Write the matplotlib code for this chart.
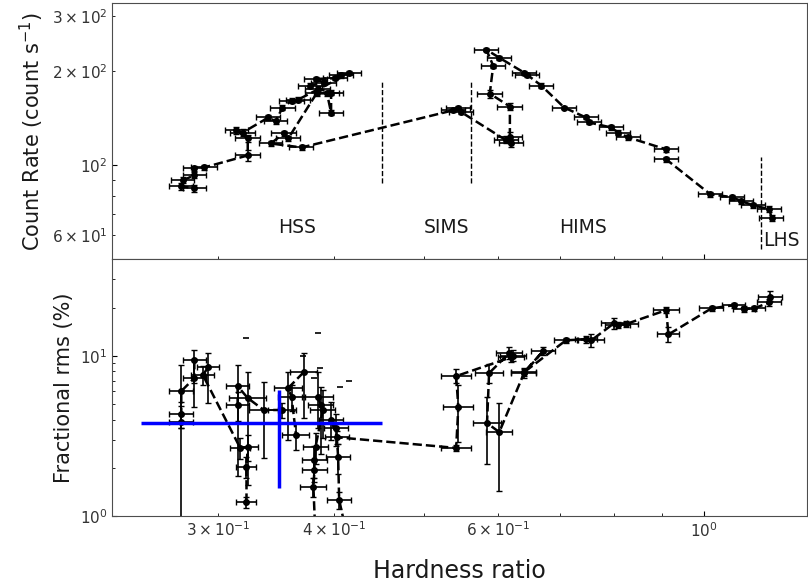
import numpy as np
import matplotlib
matplotlib.use("Agg")
import matplotlib.pyplot as plt

# top panel: hardness ratio vs count rate (time order along the dashed track)
hr_cr = [1.181, 1.175, 1.129, 1.096, 1.072, 1.015, 0.910, 0.910, 0.828, 0.808,
         0.794, 0.752, 0.746, 0.707, 0.668, 0.645, 0.640, 0.602, 0.583, 0.593,
         0.588, 0.618, 0.618, 0.612, 0.620, 0.548, 0.544, 0.537, 0.369, 0.342,
         0.353, 0.357, 0.383, 0.393, 0.397, 0.397, 0.384, 0.377, 0.390, 0.382,
         0.401, 0.407, 0.415, 0.366, 0.360, 0.352, 0.346, 0.340, 0.319, 0.314,
         0.323, 0.323, 0.290, 0.283, 0.283, 0.275, 0.274, 0.283]
cr = [67.8, 72.4, 74.5, 76.8, 79.1, 80.8, 104.5, 112.5, 122.9, 127.4,
      132.2, 137.2, 142.3, 153.1, 180.0, 195.0, 198.1, 221.1, 234.6, 208.5,
      169.7, 154.3, 122.9, 121.0, 117.5, 148.0, 153.0, 150.0, 114.1, 117.5,
      126.5, 121.9, 170.0, 170.0, 147.6, 171.0, 176.0, 180.0, 184.0, 189.0,
      190.0, 194.0, 197.0, 162.4, 161.2, 153.1, 138.2, 142.3, 127.4, 129.3,
      121.9, 107.6, 98.5, 97.8, 92.9, 89.6, 85.7, 84.4]
hr_cr_err = [0.035, 0.035, 0.034, 0.033, 0.032, 0.030, 0.027, 0.027, 0.025, 0.024,
             0.024, 0.023, 0.022, 0.021, 0.020, 0.019, 0.019, 0.018, 0.017, 0.018,
             0.018, 0.019, 0.019, 0.018, 0.019, 0.016, 0.016, 0.016, 0.011, 0.010,
             0.011, 0.011, 0.011, 0.012, 0.012, 0.012, 0.012, 0.011, 0.012, 0.011,
             0.012, 0.012, 0.012, 0.011, 0.011, 0.011, 0.010, 0.010, 0.010, 0.009,
             0.010, 0.010, 0.009, 0.008, 0.008, 0.008, 0.008, 0.008]
cr_err = [1.5, 1.5, 1.5, 1.5, 1.5, 1.5, 2.0, 2.0, 2.0, 2.0,
          2.0, 2.0, 2.0, 2.0, 3.0, 3.0, 3.0, 3.0, 3.0, 3.0,
          5.0, 4.0, 5.0, 3.0, 3.0, 2.0, 2.0, 2.0, 2.0, 2.0,
          2.0, 2.0, 3.0, 3.0, 3.0, 3.0, 3.0, 3.0, 3.0, 3.0,
          3.0, 3.0, 3.0, 3.0, 3.0, 3.0, 3.0, 3.0, 3.0, 3.0,
          3.0, 4.0, 2.0, 2.0, 2.0, 2.0, 2.0, 2.0]

# bottom panel: hardness ratio vs fractional rms (nan = no rms, breaks the line)
nan = np.nan
hr_rms = [1.178, 1.175, 1.132, 1.104, 1.075, 1.018, 0.915, 0.910, 0.824, 0.808,
          0.800, 0.756, 0.746, 0.710, 0.640, 0.671, 0.640, 0.602, 0.584, 0.587,
          0.617, 0.623, 0.620, 0.541, 0.544, 0.541, 0.403, 0.397, 0.402, 0.404,
          0.405, 0.418, 0.400, 0.384, 0.387, 0.389, 0.382, 0.381, 0.381, 0.380,
          0.383, 0.370, 0.371, 0.357, 0.360, 0.364, 0.360, 0.352, 0.336, 0.323,
          0.315, 0.315, 0.310, 0.293, 0.289, 0.317, 0.323, 0.322, 0.322, 0.300,
          0.283, 0.283, 0.274, 0.274, 0.274]
rms = [23.4, 21.6, 19.8, 19.6, 20.7, 19.8, 13.6, 19.3, 15.8, 15.6,
       16.0, 12.5, 12.7, 12.5, 7.9, 10.7, 7.8, 3.34, 3.80, 7.8,
       10.4, 10.0, 9.8, 7.47, 4.78, 2.66, 3.10, 3.97, 3.54, 2.33,
       1.26, 0.55, nan, 5.53, 4.93, 4.59, 2.70, 2.23, 1.94, 1.52,
       0.50, nan, 7.91, 6.29, 5.53, 3.20, nan, 4.59, 4.59, 5.45,
       6.47, 4.93, nan, 8.5, 7.6, 2.66, 2.70, 2.02, 1.22, nan,
       9.4, 7.26, 6.02, 4.33, 3.86]
hr_rms_err = [0.035, 0.035, 0.030, 0.030, 0.030, 0.030, 0.025, 0.030, 0.025, 0.025,
              0.025, 0.025, 0.020, 0.020, 0.020, 0.020, 0.020, 0.020, 0.020, 0.020,
              0.020, 0.020, 0.020, 0.020, 0.020, 0.020, 0.012, 0.012, 0.012, 0.012,
              0.012, 0.012, 0.0, 0.015, 0.012, 0.012, 0.012, 0.012, 0.012, 0.012,
              0.012, 0.0, 0.012, 0.012, 0.012, 0.012, 0.0, 0.012, 0.012, 0.015,
              0.009, 0.009, 0.0, 0.008, 0.008, 0.008, 0.008, 0.008, 0.008, 0.0,
              0.008, 0.008, 0.008, 0.008, 0.008]
rms_err_lo = [1.5, 1.0, 0.8, 0.8, 0.8, 0.8, 1.4, 0.8, 0.6, 0.6,
              1.2, 1.2, 0.6, 0.4, 0.4, 0.6, 0.5, 1.9, 1.7, 1.0,
              0.8, 0.7, 0.6, 0.7, 1.9, 0.1, 0.3, 1.0, 0.8, 0.5,
              0.15, 0.1, 0.0, 2.0, 2.5, 1.5, 0.6, 0.5, 0.3, 0.2,
              0.1, 0.0, 3.8, 3.3, 1.0, 0.6, 0.0, 0.5, 2.3, 3.9,
              4.7, 1.0, 0.0, 3.4, 1.0, 0.4, 0.5, 0.3, 0.1, 0.0,
              2.6, 2.5, 2.5, 0.8, 3.8]
rms_err_hi = [2.0, 1.0, 0.8, 0.8, 0.8, 0.8, 1.6, 0.8, 0.6, 0.6,
              1.2, 1.2, 0.6, 0.4, 0.4, 0.6, 0.6, 1.7, 1.7, 1.1,
              1.0, 0.8, 0.6, 0.8, 1.8, 0.1, 0.3, 1.2, 0.8, 0.5,
              0.15, 0.1, 0.0, 2.4, 1.5, 1.5, 0.6, 0.5, 0.3, 0.2,
              0.1, 0.0, 2.5, 1.6, 1.0, 0.6, 0.0, 0.5, 2.3, 2.5,
              2.3, 1.0, 0.0, 1.9, 1.0, 0.4, 0.5, 0.3, 0.1, 0.0,
              1.4, 2.3, 2.7, 0.8, 1.0]

# lone upper caps of unconstrained rms values
hr_cap = [0.322, 0.384, 0.386, 0.415, 0.406, 0.381, 0.370]
rms_cap = [12.9, 13.9, 8.4, 6.95, 6.37, 7.3, 10.0]

# averaged HSS point
hr_avg, hr_avg_err = 0.349, 0.101
rms_avg, rms_avg_err = 3.8, 2.3

# state boundaries and names
bound_hr = [0.450, 0.561, 1.152]
bound_lo = [88, 88, 54]
bound_hi = [186, 186, 106]
state_names = ["HSS", "SIMS", "HIMS", "LHS"]
state_hr = [0.365, 0.528, 0.741, 1.21]
state_cr = [63.4, 63.4, 63.4, 57.6]

fig, (ax1, ax2) = plt.subplots(2, 1, sharex=True, figsize=(8.08, 5.85), dpi=100)
fig.subplots_adjust(left=0.139, right=0.999, top=0.995, bottom=0.118, hspace=0)

ekw = dict(fmt='o', color='k', ms=4, elinewidth=1.2, capsize=2, capthick=1.0)

ax1.errorbar(hr_cr, cr, xerr=hr_cr_err, yerr=cr_err, **ekw)
ax1.plot(hr_cr, cr, 'k--', lw=1.8)
ax1.vlines(bound_hr, bound_lo, bound_hi, colors='k', linestyles='--', lw=1)
for name, x, y in zip(state_names, state_hr, state_cr):
    ax1.text(x, y, name, ha='center', va='center', fontsize=13.5, color='0.1')

ax2.errorbar(hr_rms, rms, xerr=hr_rms_err, yerr=[rms_err_lo, rms_err_hi], **ekw)
ax2.plot(hr_rms, rms, 'k--', lw=1.8)
ax2.plot(hr_cap, rms_cap, '_', color='k', ms=4, mew=1.2)
ax2.errorbar([hr_avg], [rms_avg], xerr=[hr_avg_err], yerr=[rms_avg_err],
             fmt='none', ecolor='blue', elinewidth=2.5, zorder=5)

for ax in (ax1, ax2):
    ax.set_xscale('log')
    ax.set_yscale('log')
    ax.tick_params(which='both', direction='in', labelsize=11, labelcolor='0.2')
    for s in ax.spines.values():
        s.set_color('0.3')

ax1.set_xlim(0.231, 1.29)
ax1.set_ylim(50, 331)
ax2.set_ylim(1, 40)

ax1.set_ylabel('Count Rate (count s$^{-1}$)', fontsize=15, color='0.1')
ax2.set_ylabel('Fractional rms (%)', fontsize=15, color='0.1')
ax2.set_xlabel('Hardness ratio', fontsize=17, color='0.1', labelpad=14)

fig.savefig('out.png', dpi=100)
